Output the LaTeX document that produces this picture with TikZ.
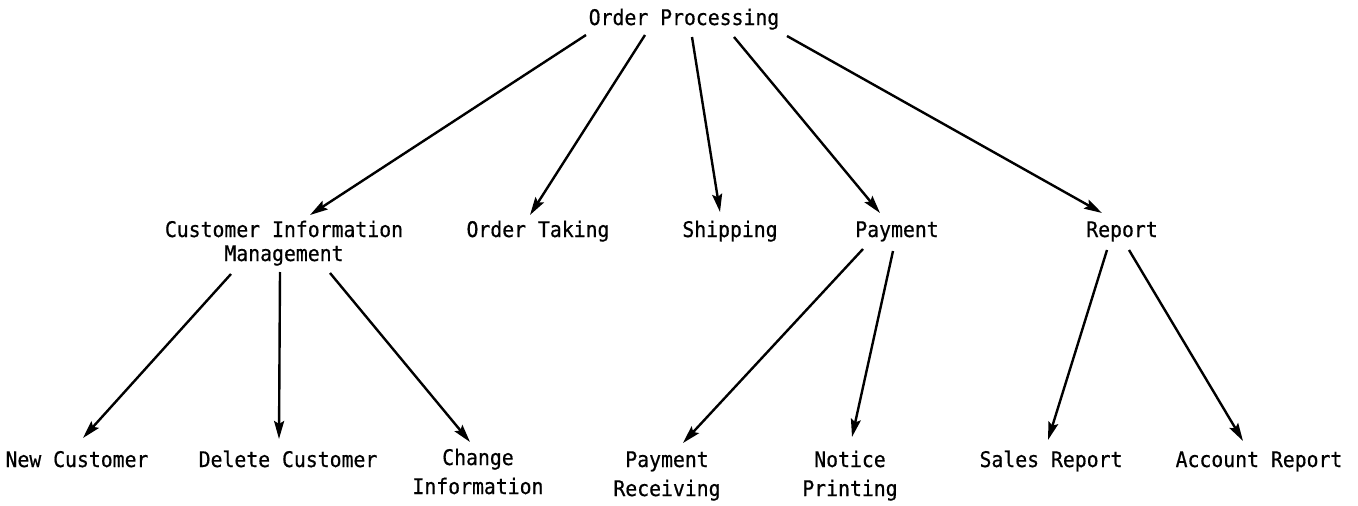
\documentclass[tikz,border=0pt]{standalone}
\usepackage{fontspec}
\setmonofont[FakeStretch=0.92,FakeBold=0.6]{DejaVu Sans Mono}
\usetikzlibrary{arrows.meta,calc}
\tikzset{
  label/.style={font=\ttfamily\fontsize{21.5}{24}\selectfont, inner sep=0pt, anchor=base},
  link/.style={line width=2.4pt, -{Stealth[length=18pt,width=10pt,inset=3pt]}}
}
\newcommand{\twolines}[3][0pt]{\begin{tabular}[t]{@{}c@{}}#2\\[#1]#3\end{tabular}}
\begin{document}
\begin{tikzpicture}[x=1pt,y=-1pt]
  \useasboundingbox (0,0) rectangle (1358,506);
  % root
  \node[label] (op) at (684,25) {Order Processing};
  % second level
  \node[label] (cim) at (284,237) {\twolines{Customer Information}{Management}};
  \node[label] (ot)  at (538,237) {Order Taking};
  \node[label] (sh)  at (730,237) {Shipping};
  \node[label] (pay) at (897,237) {Payment};
  \node[label] (rep) at (1122,237) {Report};
  % third level
  \node[label] (new) at (77,467)  {New Customer};
  \node[label] (del) at (288,467) {Delete Customer};
  \node[label] (chg) at (478,465) {\twolines[5pt]{Change}{Information}};
  \node[label] (rcv) at (667,467) {\twolines[5pt]{Payment}{Receiving}};
  \node[label] (ntc) at (850,467) {\twolines[5pt]{Notice}{Printing}};
  \node[label] (sal) at (1051,467) {Sales Report};
  \node[label] (acc) at (1259,467) {Account Report};
  % connectors from the root
  \draw[link] ($(op.base)+(-98,10)$) -- ($(cim.base)+(26,-22)$);
  \draw[link] ($(op.base)+(-39,10)$) -- ($(ot.base)+(-8,-22)$);
  \draw[link] ($(op.base)+(8,12)$)   -- ($(sh.base)+(-10,-25)$);
  \draw[link] ($(op.base)+(50,12)$)  -- ($(pay.base)+(-17,-24)$);
  \draw[link] ($(op.base)+(103,11)$) -- ($(rep.base)+(-20,-24)$);
  % customer information management
  \draw[link] ($(cim.base)+(-53,37)$) -- ($(new.base)+(6,-29)$);
  \draw[link] ($(cim.base)+(-4,35)$)  -- ($(del.base)+(-9,-28)$);
  \draw[link] ($(cim.base)+(46,36)$)  -- ($(chg.base)+(-8,-23)$);
  % payment
  \draw[link] ($(pay.base)+(-34,12)$) -- ($(rcv.base)+(16,-24)$);
  \draw[link] ($(pay.base)+(-4,14)$)  -- ($(ntc.base)+(2,-30)$);
  % report
  \draw[link] ($(rep.base)+(-15,13)$) -- ($(sal.base)+(-3,-27)$);
  \draw[link] ($(rep.base)+(7,13)$)   -- ($(acc.base)+(-16,-26)$);
\end{tikzpicture}
\end{document}
